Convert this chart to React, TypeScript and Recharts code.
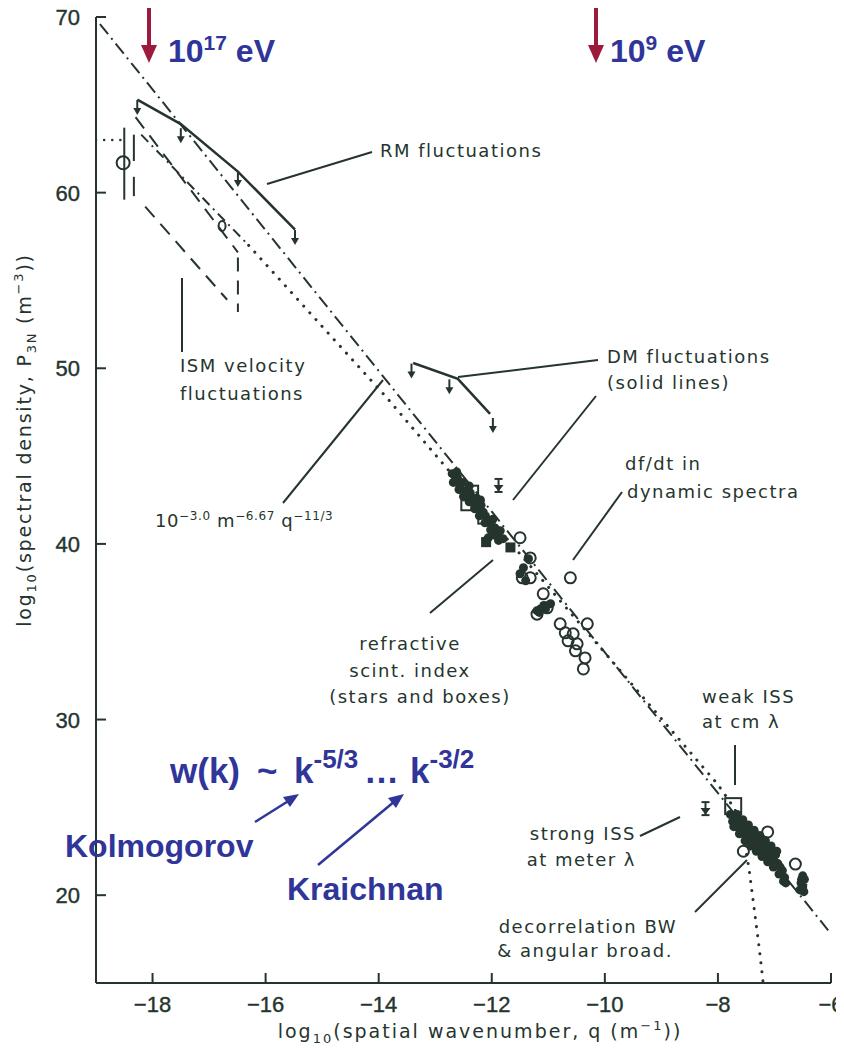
import React from 'react';
import { ComposedChart, Line, Scatter, XAxis, YAxis } from 'recharts';

const INK = '#25352e';
const BLUE = '#30359a';
const RED = '#9c1b3c';
const FONT = '"DejaVu Sans", Verdana, sans-serif';
const AXFONT = '"Liberation Sans", Arial, sans-serif';

const xTicks = [-18, -16, -14, -12, -10, -8, -6];
const yTicks = [20, 30, 40, 50, 60, 70];

// lines
const dashDotLine = [{ x: -18.93, y: 69.6 }, { x: -6.05, y: 18.0 }];
const dottedCurve = [
  { x: -16.3, y: 57.0 }, { x: -13.85, y: 48.3 }, { x: -12.0, y: 41.3 }, { x: -8.0, y: 26.3 },
  { x: -7.7, y: 24.9 }, { x: -7.55, y: 23.4 }, { x: -7.45, y: 21.5 }, { x: -7.35, y: 19.0 },
  { x: -7.27, y: 17.0 }, { x: -7.2, y: 15.0 },
];
const outerScaleFlat = [{ x: -19, y: 63.0 }, { x: -18.45, y: 63.0 }];
const ismDotDash = [{ x: -18.2, y: 63.3 }, { x: -16.3, y: 57.0 }];
const ismDashA = [{ x: -18.3, y: 64.3 }, { x: -16.49, y: 56.6 }];
const ismDashB = [{ x: -18.13, y: 59.2 }, { x: -16.68, y: 53.9 }];
const ismVertical = [{ x: -16.49, y: 56.3 }, { x: -16.49, y: 53.2 }];
const circleErrBar = [{ x: -18.5, y: 63.7 }, { x: -18.5, y: 59.6 }];
const sideBarSolid = [{ x: -18.33, y: 63.3 }, { x: -18.33, y: 61.8 }];
const sideBarDashed = [{ x: -18.33, y: 60.9 }, { x: -18.33, y: 59.8 }];
const rmLine = [{ x: -18.27, y: 65.3 }, { x: -17.5, y: 63.9 }, { x: -16.49, y: 61.2 }, { x: -15.48, y: 57.9 }];
const rmMarkers = [{ x: -18.27, y: 64.7 }, { x: -17.5, y: 63.1 }, { x: -16.49, y: 60.6 }, { x: -15.48, y: 57.3 }];
const dmLine = [{ x: -13.39, y: 50.3 }, { x: -12.6, y: 49.4 }, { x: -12.03, y: 47.4 }];
const dmMarkers = [{ x: -13.42, y: 49.7 }, { x: -12.75, y: 48.8 }, { x: -11.98, y: 46.6 }];

// points
const bigCircle = [{ x: -18.52, y: 61.7 }];
const smallCircle = [{ x: -16.77, y: 58.1 }];
const filledStars = [
  { x: -12.70, y: 44.0 }, { x: -12.65, y: 43.6 }, { x: -12.61, y: 43.8 }, { x: -12.56, y: 43.3 },
  { x: -12.52, y: 43.5 }, { x: -12.47, y: 43.0 }, { x: -12.43, y: 42.7 }, { x: -12.38, y: 42.9 },
  { x: -12.33, y: 42.4 }, { x: -12.28, y: 42.6 }, { x: -12.24, y: 42.0 }, { x: -12.19, y: 42.2 },
  { x: -12.15, y: 41.8 }, { x: -12.10, y: 41.5 }, { x: -12.05, y: 41.3 }, { x: -12.00, y: 41.0 },
  { x: -11.94, y: 40.9 }, { x: -11.90, y: 40.6 }, { x: -11.85, y: 40.75 }, { x: -11.80, y: 40.3 },
  { x: -12.06, y: 40.35 }, { x: -12.10, y: 40.2 }, { x: -11.44, y: 38.64 }, { x: -11.35, y: 39.16 },
  { x: -11.14, y: 36.3 }, { x: -11.08, y: 36.5 }, { x: -11.20, y: 36.2 }, { x: -10.96, y: 36.59 },
  { x: -11.50, y: 38.3 }, { x: -11.40, y: 37.9 },
  { x: -12.68, y: 43.5 }, { x: -12.58, y: 43.1 }, { x: -12.50, y: 42.7 }, { x: -12.40, y: 42.4 },
  { x: -12.30, y: 42.0 }, { x: -12.22, y: 41.6 }, { x: -12.12, y: 41.2 }, { x: -12.02, y: 40.8 },
  { x: -11.95, y: 40.5 }, { x: -11.88, y: 40.2 }, { x: -12.62, y: 44.1 }, { x: -12.40, y: 43.3 },
  { x: -12.20, y: 42.5 }, { x: -11.98, y: 41.4 }, { x: -11.16, y: 36.1 }, { x: -11.05, y: 36.3 },
];
const openCircles = [
  { x: -11.5, y: 40.35 }, { x: -11.32, y: 39.2 }, { x: -11.46, y: 38.07 }, { x: -11.32, y: 38.07 },
  { x: -10.61, y: 38.07 }, { x: -11.09, y: 37.16 }, { x: -11.02, y: 36.36 }, { x: -10.79, y: 35.45 },
  { x: -10.31, y: 35.45 }, { x: -10.7, y: 34.94 }, { x: -10.56, y: 34.88 }, { x: -10.65, y: 34.48 },
  { x: -10.49, y: 34.31 }, { x: -10.35, y: 33.51 }, { x: -10.38, y: 32.88 }, { x: -10.52, y: 33.91 },
  { x: -11.2, y: 36.0 }, { x: -7.12, y: 23.6 }, { x: -6.63, y: 21.77 }, { x: -7.55, y: 22.5 },
];
const openSquares = [{ x: -12.33, y: 43.03 }, { x: -12.15, y: 41.44 }, { x: -12.45, y: 42.2 }];
const filledSquares = [{ x: -11.67, y: 39.8 }, { x: -12.1, y: 40.1 }];
const weakIssBox = [{ x: -7.73, y: 25.07 }];
const limitMarks = [{ x: -11.88, y: 43.3 }, { x: -8.22, y: 24.9 }];
const issBlob = [
  { x: -7.78, y: 24.6 }, { x: -7.74, y: 24.2 }, { x: -7.70, y: 24.5 }, { x: -7.68, y: 23.9 },
  { x: -7.64, y: 24.3 }, { x: -7.60, y: 23.8 }, { x: -7.58, y: 24.1 }, { x: -7.54, y: 23.5 },
  { x: -7.50, y: 23.9 }, { x: -7.47, y: 23.3 }, { x: -7.44, y: 23.7 }, { x: -7.40, y: 23.1 },
  { x: -7.37, y: 23.5 }, { x: -7.33, y: 22.9 }, { x: -7.30, y: 23.3 }, { x: -7.26, y: 22.8 },
  { x: -7.22, y: 23.0 }, { x: -7.18, y: 22.5 }, { x: -7.15, y: 22.8 }, { x: -7.10, y: 22.3 },
  { x: -7.06, y: 22.6 }, { x: -7.02, y: 22.0 }, { x: -6.98, y: 22.3 }, { x: -6.94, y: 21.8 },
  { x: -6.90, y: 21.6 }, { x: -6.86, y: 21.4 }, { x: -6.82, y: 21.0 }, { x: -6.80, y: 20.7 },
  { x: -6.52, y: 20.9 }, { x: -6.50, y: 20.5 }, { x: -6.48, y: 20.2 }, { x: -6.55, y: 20.3 },
  { x: -7.72, y: 23.9 }, { x: -7.62, y: 23.5 }, { x: -7.52, y: 23.1 }, { x: -7.42, y: 22.8 },
  { x: -7.32, y: 22.5 }, { x: -7.22, y: 22.2 }, { x: -7.12, y: 21.9 }, { x: -7.02, y: 21.6 },
  { x: -6.92, y: 21.2 }, { x: -6.84, y: 20.8 }, { x: -7.66, y: 24.6 }, { x: -7.56, y: 24.3 },
  { x: -7.46, y: 24.0 }, { x: -7.36, y: 23.7 }, { x: -7.26, y: 23.4 }, { x: -7.16, y: 23.1 },
  { x: -7.06, y: 22.8 }, { x: -6.96, y: 22.5 }, { x: -6.47, y: 20.9 }, { x: -6.53, y: 20.7 },
  { x: -6.50, y: 21.1 },
];
const blobTriangles = [{ x: -6.84, y: 20.9 }, { x: -6.5, y: 20.4 }];

const fmt = (v: number) => (v < 0 ? `\u2212${Math.abs(v)}` : `${v}`);

const BottomTick = (p: any) => (
  <g>
    <line x1={p.x} y1={p.y} x2={p.x} y2={p.y - 10} stroke={INK} strokeWidth={2} />
    <text x={p.x} y={p.y + 29} textAnchor="middle" fontFamily={AXFONT} fontSize={22} fill={INK} stroke={INK} strokeWidth={0.4}>{fmt(p.payload.value)}</text>
  </g>
);
const TopTick = (p: any) => <line x1={p.x} y1={p.y} x2={p.x} y2={p.y + 10} stroke={INK} strokeWidth={2} />;
const LeftTick = (p: any) => (
  <g>
    <line x1={p.x} y1={p.y} x2={p.x + 10} y2={p.y} stroke={INK} strokeWidth={2} />
    <text x={p.x - 16} y={p.y + 8} textAnchor="end" fontFamily={AXFONT} fontSize={22} fill={INK} stroke={INK} strokeWidth={0.4}>{fmt(p.payload.value)}</text>
  </g>
);
const RightTick = (p: any) => <line x1={p.x} y1={p.y} x2={p.x - 10} y2={p.y} stroke={INK} strokeWidth={2} />;

const Dot = (p: any) => <circle cx={p.cx} cy={p.cy} r={4.5} fill={INK} />;
const OpenC = (p: any) => <circle cx={p.cx} cy={p.cy} r={5.5} fill="none" stroke={INK} strokeWidth={2} />;
const BigC = (p: any) => <circle cx={p.cx} cy={p.cy} r={6.5} fill="none" stroke={INK} strokeWidth={2} />;
const SmallC = (p: any) => <ellipse cx={p.cx} cy={p.cy} rx={3.5} ry={5} fill="none" stroke={INK} strokeWidth={2} />;
const OpenSq = (p: any) => <rect x={p.cx - 5} y={p.cy - 5} width={10} height={10} fill="none" stroke={INK} strokeWidth={2} />;
const FillSq = (p: any) => <rect x={p.cx - 5} y={p.cy - 5} width={10} height={10} fill={INK} />;
const BigSq = (p: any) => <rect x={p.cx - 8} y={p.cy - 8} width={16} height={16} fill="none" stroke={INK} strokeWidth={2} />;
const Hang = (p: any) => (
  <g>
    <line x1={p.cx} y1={p.cy - 10} x2={p.cx} y2={p.cy} stroke={INK} strokeWidth={2} />
    <path d={`M${p.cx - 4},${p.cy - 2}L${p.cx + 4},${p.cy - 2}L${p.cx},${p.cy + 5}Z`} fill={INK} />
  </g>
);
const DownTri = (p: any) => <path d={`M${p.cx - 5},${p.cy - 4}L${p.cx + 5},${p.cy - 4}L${p.cx},${p.cy + 5}Z`} fill={INK} />;
const Limit = (p: any) => (
  <g stroke={INK} strokeWidth={2}>
    <line x1={p.cx - 4} y1={p.cy - 7} x2={p.cx + 4} y2={p.cy - 7} />
    <line x1={p.cx} y1={p.cy - 7} x2={p.cx} y2={p.cy + 6} />
    <line x1={p.cx - 4} y1={p.cy + 6} x2={p.cx + 4} y2={p.cy + 6} />
    <path d={`M${p.cx - 3},${p.cy}L${p.cx + 3},${p.cy}L${p.cx},${p.cy + 4}Z`} fill={INK} />
  </g>
);

const lineProps = { type: 'linear' as const, dataKey: 'y', dot: false, activeDot: false, isAnimationActive: false, stroke: INK, strokeWidth: 2 };

const Sup = ({ children, size = 12, up = 7 }: any) => <tspan fontSize={size} dy={-up}>{children}</tspan>;

export default function App() {
  const leaders = [
    [372, 152, 267, 184], [598, 360, 458, 377], [596, 396, 513, 500], [622, 492, 573, 560],
    [493, 560, 430, 613], [283, 503, 383, 380], [182, 278, 182, 352], [735, 745, 735, 785],
    [640, 836, 680, 817], [695, 912, 747, 860],
  ];
  const txt = { fontFamily: FONT, fontSize: 18, fill: INK, letterSpacing: 1.5 } as any;
  const blueTxt = { fontFamily: AXFONT, fontWeight: 'bold', fontSize: 32, fill: BLUE } as any;
  return (
    <div style={{ position: 'relative', width: 836, height: 1040 }}>
      <style>{`svg{overflow:visible}`}</style>
      <ComposedChart width={836} height={1040} margin={{ top: 9, right: 13, bottom: 0, left: 0 }}>
        <XAxis xAxisId={0} type="number" dataKey="x" domain={[-19, -6]} ticks={xTicks} interval={0} height={65}
          tickSize={0} tickMargin={0} tickLine={false} tick={(p: any) => <BottomTick {...p} />}
          axisLine={{ stroke: INK, strokeWidth: 2 }} allowDataOverflow />
        <XAxis xAxisId="top" orientation="top" type="number" dataKey="x" domain={[-19, -6]} ticks={xTicks} interval={0} height={0}
          tickSize={0} tickMargin={0} tickLine={false} tick={(p: any) => <TopTick {...p} />}
          axisLine={{ stroke: INK, strokeWidth: 2 }} allowDataOverflow />
        <YAxis yAxisId={0} type="number" dataKey="y" domain={[15, 70]} ticks={yTicks} interval={0} width={88}
          tickSize={0} tickMargin={0} tickLine={false} tick={(p: any) => <LeftTick {...p} />}
          axisLine={{ stroke: INK, strokeWidth: 2 }} allowDataOverflow />
        <YAxis yAxisId="right" orientation="right" type="number" dataKey="y" domain={[15, 70]} ticks={yTicks} interval={0} width={0}
          tickSize={0} tickMargin={0} tickLine={false} tick={(p: any) => <RightTick {...p} />}
          axisLine={{ stroke: INK, strokeWidth: 2 }} allowDataOverflow />

        <Line {...lineProps} data={dashDotLine} strokeDasharray="13 5 2 5" />
        <Line {...lineProps} data={dottedCurve} strokeDasharray="0.1 9" strokeLinecap="round" strokeWidth={3} />
        <Line {...lineProps} data={outerScaleFlat} strokeDasharray="0.1 8" strokeLinecap="round" strokeWidth={2.5} />
        <Line {...lineProps} data={ismDotDash} strokeDasharray="10 5 2 5" />
        <Line {...lineProps} data={ismDashA} strokeDasharray="14 9" />
        <Line {...lineProps} data={ismDashB} strokeDasharray="14 9" />
        <Line {...lineProps} data={ismVertical} strokeDasharray="14 9" />
        <Line {...lineProps} data={circleErrBar} />
        <Line {...lineProps} data={sideBarSolid} />
        <Line {...lineProps} data={sideBarDashed} />
        <Line {...lineProps} data={rmLine} strokeWidth={2.5} />
        <Line {...lineProps} data={dmLine} strokeWidth={2.5} />

        <Scatter data={rmMarkers} shape={Hang} isAnimationActive={false} />
        <Scatter data={dmMarkers} shape={Hang} isAnimationActive={false} />
        <Scatter data={bigCircle} shape={BigC} isAnimationActive={false} />
        <Scatter data={smallCircle} shape={SmallC} isAnimationActive={false} />
        <Scatter data={filledStars} shape={Dot} isAnimationActive={false} />
        <Scatter data={openCircles} shape={OpenC} isAnimationActive={false} />
        <Scatter data={openSquares} shape={OpenSq} isAnimationActive={false} />
        <Scatter data={filledSquares} shape={FillSq} isAnimationActive={false} />
        <Scatter data={weakIssBox} shape={BigSq} isAnimationActive={false} />
        <Scatter data={limitMarks} shape={Limit} isAnimationActive={false} />
        <Scatter data={issBlob} shape={Dot} isAnimationActive={false} />
        <Scatter data={blobTriangles} shape={DownTri} isAnimationActive={false} />
      </ComposedChart>

      <svg width={836} height={1040} style={{ position: 'absolute', left: 0, top: 0, overflow: 'visible', pointerEvents: 'none' }}>
        <g transform="translate(-8,-8)">
          {leaders.map((l, i) => (
            <line key={i} x1={l[0]} y1={l[1]} x2={l[2]} y2={l[3]} stroke={INK} strokeWidth={2} />
          ))}

          {/* axis titles */}
          <text x={480} y={1038} textAnchor="middle" fontFamily={FONT} fontSize={19} letterSpacing={2} fill={INK}>
            log<tspan fontSize={13} dy={5}>10</tspan><tspan dy={-5}>(spatial wavenumber, q (m</tspan><tspan fontSize={13} dy={-8}>{'\u22121'}</tspan><tspan dy={8}>))</tspan>
          </text>
          <text transform="translate(31,440) rotate(-90)" textAnchor="middle" fontFamily={FONT} fontSize={19} letterSpacing={1.8} fill={INK}>
            log<tspan fontSize={13} dy={5}>10</tspan><tspan dy={-5}>(spectral density, P</tspan><tspan fontSize={13} dy={5}>3N</tspan><tspan dy={-5}> (m</tspan><tspan fontSize={13} dy={-8}>{'\u22123'}</tspan><tspan dy={8}>))</tspan>
          </text>

          {/* annotations */}
          <text x={380} y={157} {...txt}>RM fluctuations</text>
          <text x={607} y={363} {...txt}>DM fluctuations</text>
          <text x={607} y={389} {...txt}>(solid lines)</text>
          <text x={625} y={470} {...txt}>df/dt in</text>
          <text x={627} y={498} {...txt}>dynamic spectra</text>
          <text x={180} y={372} {...txt}>ISM velocity</text>
          <text x={180} y={400} {...txt}>fluctuations</text>
          <text x={155} y={527} {...txt} letterSpacing={0.6}>
            10<Sup>{'\u22123.0'}</Sup><tspan dy={7}> m</tspan><Sup>{'\u22126.67'}</Sup><tspan dy={7}> q</tspan><Sup>{'\u221211/3'}</Sup>
          </text>
          <text x={410} y={650} textAnchor="middle" {...txt}>refractive</text>
          <text x={410} y={677} textAnchor="middle" {...txt}>scint. index</text>
          <text x={420} y={703} textAnchor="middle" {...txt}>(stars and boxes)</text>
          <text x={702} y={703} {...txt}>weak ISS</text>
          <text x={702} y={728} {...txt}>at cm λ</text>
          <text x={636} y={840} textAnchor="end" {...txt}>strong ISS</text>
          <text x={636} y={866} textAnchor="end" {...txt}>at meter λ</text>
          <text x={677} y={933} textAnchor="end" {...txt}>decorrelation BW</text>
          <text x={673} y={957} textAnchor="end" {...txt}>&amp; angular broad.</text>

          {/* energy arrows */}
          <rect x={147} y={3} width={4} height={45} fill={RED} />
          <path d="M141,45 L157,45 L149,63 Z" fill={RED} />
          <rect x={594} y={3} width={4} height={45} fill={RED} />
          <path d="M588,45 L604,45 L596,63 Z" fill={RED} />
          <text x={168} y={62} {...blueTxt}>10<tspan fontSize={21} dy={-12}>17</tspan><tspan dy={12}> eV</tspan></text>
          <text x={610} y={62} {...blueTxt}>10<tspan fontSize={21} dy={-12}>9</tspan><tspan dy={12}> eV</tspan></text>

          {/* turbulence spectrum annotation */}
          <text x={170} y={783} {...blueTxt} fontSize={35}>
            w(k)<tspan x={257}>~</tspan><tspan x={294}>k</tspan><tspan fontSize={26} dy={-15}>-5/3</tspan><tspan dy={15} x={364}>…</tspan><tspan x={410}>k</tspan><tspan fontSize={26} dy={-15}>-3/2</tspan>
          </text>
          <text x={65} y={857} {...blueTxt}>Kolmogorov</text>
          <text x={287} y={900} {...blueTxt}>Kraichnan</text>
          <line x1={255} y1={822} x2={290} y2={800} stroke={BLUE} strokeWidth={2.5} />
          <path d="M299,794 L283,797 L290,807 Z" fill={BLUE} />
          <line x1={318} y1={865} x2={395} y2={801} stroke={BLUE} strokeWidth={2.5} />
          <path d="M404,794 L388,798 L396,808 Z" fill={BLUE} />
        </g>
      </svg>
    </div>
  );
}
